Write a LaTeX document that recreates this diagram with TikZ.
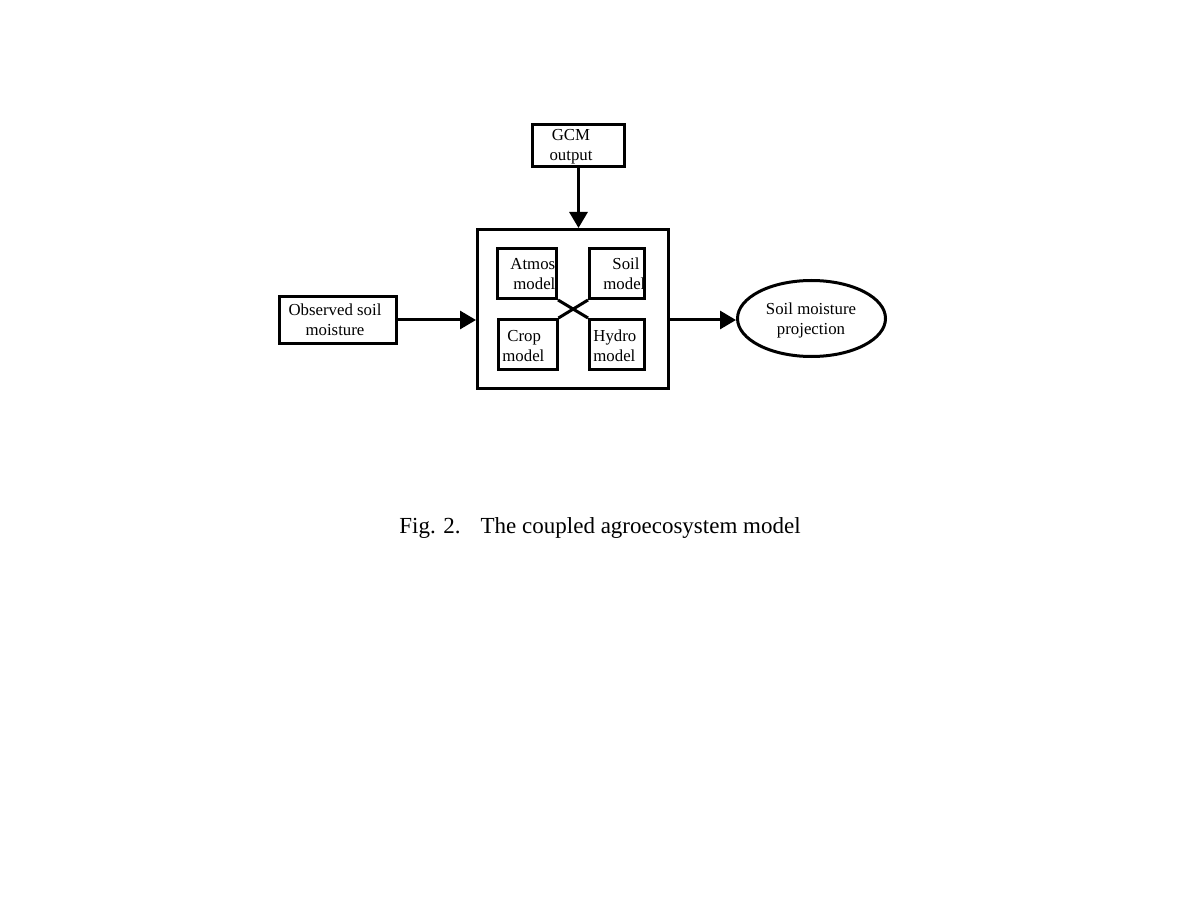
\documentclass[tikz,border=0pt]{standalone}
\usepackage{fontspec}
\setmainfont{Liberation Serif}
\usetikzlibrary{arrows.meta,shapes.geometric}
\begin{document}
\begin{tikzpicture}[x=0.5pt,y=-0.5pt,
  box/.style={draw,line width=1.5pt,rectangle,inner sep=0pt},
  lbl/.style={font=\fontsize{8.4}{10}\selectfont,align=center,inner sep=0pt},
  ln/.style={font=\fontsize{8.4}{10}\selectfont,inner sep=0pt,anchor=base west},
  arr/.style={line width=1.5pt,-{Triangle[length=8pt,width=9pt]}},
  cross/.style={line width=1.5pt}]
\useasboundingbox[fill=white] (0,0) rectangle (1198,898);
% boxes
\node[box,minimum width=46pt,minimum height=21pt] (gcm) at (578.5,145.5) {};
\node[box,minimum width=95.5pt,minimum height=79.5pt] (main) at (573,309) {};
\node[box,minimum width=29.5pt,minimum height=25pt] (atmos) at (527,273.5) {};
\node[box,minimum width=27.5pt,minimum height=25pt] (soil) at (617,273.5) {};
\node[box,minimum width=29.5pt,minimum height=25pt] (crop) at (527.5,344.5) {};
\node[box,minimum width=27.5pt,minimum height=25pt] (hydro) at (617,344.5) {};
\node[box,minimum width=58.5pt,minimum height=23.5pt] (obs) at (338,320) {};
\node[draw,line width=1.5pt,ellipse,inner sep=0pt,minimum width=74pt,minimum height=38pt] (proj) at (811.5,318.5) {};
% texts
\node[lbl] (tgcm) at (571,147) {GCM\\output};
\node[ln] (ta1) at (510,270) {Atmos};
\node[ln] (ta2) at (513,290) {model};
\node[ln] (ts1) at (612,270) {Soil};
\node[ln] (ts2) at (603,290) {model};
\node[ln] (tc1) at (507,342) {Crop};
\node[ln] (tc2) at (502,362) {model};
\node[ln] (th1) at (593,342) {Hydro};
\node[ln] (th2) at (593,362) {model};
\node[lbl] (tobs) at (335,320) {Observed soil\\moisture};
\node[lbl] (tproj) at (811,320) {Soil moisture\\projection};
% caption
\node[font=\fontsize{11.5}{13}\selectfont,inner sep=0pt] (cap) at (600,528) {Fig. 2.\hspace{10pt}The coupled agroecosystem model};
% connectors
\draw[arr] (gcm.south) -- (gcm.south |- main.north);
\draw[arr] (obs.east) -- (obs.east -| main.west);
\draw[arr] (main.east |- obs.east) -- (proj.west |- obs.east);
\draw[cross] (atmos.south east) -- (hydro.north west);
\draw[cross] (soil.south west) -- (crop.north east);
\end{tikzpicture}
\end{document}
